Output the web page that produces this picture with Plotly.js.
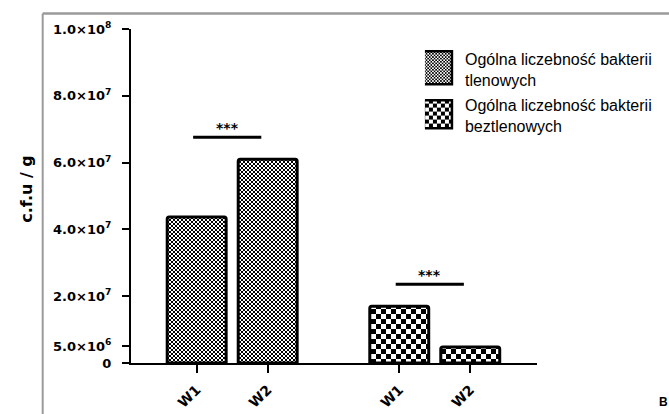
<!DOCTYPE html>
<html><head><meta charset="utf-8">
<script src="https://cdn.plot.ly/plotly-3.0.1.min.js"></script>
<style>body{margin:0;background:#fff}#chart{width:669px;height:414px}</style>
</head><body><div id="chart"></div>
<script>
// ---- data ----
const categories = ['W1', 'W2'];
const seriesNames = ['Ogólna liczebność bakterii<br>tlenowych', 'Ogólna liczebność bakterii<br>beztlenowych'];
const aerobic = [4.37e7, 6.10e7];
const anaerobic = [1.70e7, 4.8e6];
const significance = ['***', '***'];
const yTickVals = [0, 5e6, 2e7, 4e7, 6e7, 8e7, 1e8];
const yTickText = ['0', '5.0×10<sup>6</sup>', '2.0×10<sup>7</sup>', '4.0×10<sup>7</sup>', '6.0×10<sup>7</sup>', '8.0×10<sup>7</sup>', '1.0×10<sup>8</sup>'];
const yTitle = 'c.f.u / g';
const panelLabel = 'B';

// ---- layout constants ----
const GROUP_OFFSET = 2.853;
const BAR_WIDTH = 0.83;
const SIG_PAD = 0.66e7;

const xA = categories.map((_, i) => i);
const xB = categories.map((_, i) => i + GROUP_OFFSET);
const groups = [{x: xA, y: aerobic}, {x: xB, y: anaerobic}];

function barTrace(g, name, lg, size) {
  return {
    type: 'bar', x: g.x, y: g.y, name: name, width: BAR_WIDTH, legendgroup: lg,
    hoverinfo: 'skip',
    marker: {
      color: 'white', cornerradius: 2,
      line: {color: 'black', width: 3},
      pattern: {shape: '.', size: size, solidity: 0.5, fgcolor: 'black', bgcolor: 'white'}
    }
  };
}
const data = [barTrace(groups[0], seriesNames[0], 'a', 4), barTrace(groups[1], seriesNames[1], 'b', 10)];

const shapes = [
  {type: 'line', xref: 'paper', yref: 'paper', x0: -0.2175, x1: -0.2175, y0: 1.0464, y1: -0.25, line: {color: '#9a9a9a', width: 2}},
  {type: 'line', xref: 'paper', yref: 'paper', x0: -0.2175, x1: 1.4, y0: 1.0464, y1: 1.0464, line: {color: '#9a9a9a', width: 2.5}}
];
const annotations = [];
groups.forEach((g, k) => {
  const yy = Math.max(...g.y) + SIG_PAD;
  const x0 = g.x[0] - 0.05, x1 = g.x[1] - 0.09;
  shapes.push({type: 'line', xref: 'x', yref: 'y', x0: x0, x1: x1, y0: yy, y1: yy, line: {color: 'black', width: 3}});
  annotations.push({xref: 'x', yref: 'y', x: (x0 + x1) / 2, y: yy, text: significance[k], showarrow: false,
    yanchor: 'middle', yshift: 9, font: {family: 'DejaVu Sans', size: 14, weight: 'bold', color: 'black'}});
});
annotations.push({xref: 'paper', yref: 'paper', x: 1.3116, y: -0.1168, text: panelLabel, showarrow: false,
  xanchor: 'center', yanchor: 'middle', font: {family: 'Liberation Sans', size: 12, weight: 'bold', color: 'black'}});

const tickFont = {family: 'DejaVu Sans', size: 13, weight: 'bold', color: 'black'};
const layout = {
  width: 669, height: 414,
  margin: {l: 131, r: 132, t: 29, b: 51, pad: 0},
  paper_bgcolor: 'white', plot_bgcolor: 'white',
  showlegend: true,
  xaxis: {
    range: [-0.925, 4.793], tickvals: xA.concat(xB), ticktext: categories.concat(categories),
    tickangle: -45, ticks: 'outside', ticklen: 8, tickwidth: 2, tickcolor: 'black',
    showline: true, linewidth: 2, linecolor: 'black', showgrid: false, zeroline: false,
    tickfont: {family: 'DejaVu Sans', size: 14, weight: 'bold', color: 'black'}, ticklabelstandoff: 3, fixedrange: true
  },
  yaxis: {
    range: [0, 1e8], tickvals: yTickVals, ticktext: yTickText,
    ticks: 'outside', ticklen: 7, tickwidth: 2, tickcolor: 'black',
    showline: true, linewidth: 2, linecolor: 'black', showgrid: false, zeroline: false,
    tickfont: tickFont, ticklabelstandoff: 8, fixedrange: true,
    title: {text: yTitle, font: {family: 'DejaVu Sans', size: 16, weight: 'bold', color: 'black'}, standoff: 20}
  },
  legend: {
    x: 0.724, xanchor: 'left', y: 0.962, yanchor: 'top',
    font: {family: 'Liberation Sans', size: 16, color: 'black'},
    traceorder: 'grouped', tracegroupgap: 2, bgcolor: 'rgba(0,0,0,0)', itemclick: false, itemdoubleclick: false
  },
  shapes: shapes, annotations: annotations
};

function checkerize(gd) {
  const NS = 'http://www.w3.org/2000/svg';
  gd.querySelectorAll('pattern').forEach(pt => {
    const s = parseFloat(pt.getAttribute('width'));
    if (!s) return;
    const c = s / 2;
    while (pt.firstChild) pt.removeChild(pt.firstChild);
    const mk = (x, y, w, h, f) => {
      const r = document.createElementNS(NS, 'rect');
      r.setAttribute('x', x); r.setAttribute('y', y); r.setAttribute('width', w); r.setAttribute('height', h);
      r.setAttribute('fill', f); pt.appendChild(r);
    };
    mk(0, 0, s, s, '#ffffff'); mk(0, 0, c, c, '#000000'); mk(c, c, c, c, '#000000');
  });
}
function fixLegend(gd) {
  const sizes = [[29, 33], [28, 28]];
  gd.querySelectorAll('.legend .traces').forEach((g, i) => {
    const text = g.querySelector('text.legendtext');
    const path = g.querySelector('.legendpoints path');
    if (!text || !path) return;
    const tb = text.getBoundingClientRect();
    const [w, h] = sizes[i] || sizes[0];
    const cx = tb.left - 13 - w / 2, cy = (tb.top + tb.bottom) / 2 - 2;
    const svg = path.ownerSVGElement;
    const p = svg.createSVGPoint(); p.x = cx; p.y = cy;
    const l = p.matrixTransform(path.getScreenCTM().inverse());
    path.setAttribute('d', `M${l.x - w / 2},${l.y - h / 2}H${l.x + w / 2}V${l.y + h / 2}H${l.x - w / 2}Z`);
    path.style.strokeWidth = '2.5px';
  });
}
function placeYTitle(gd) {
  const t = gd.querySelector('.ytitle');
  if (!t) return;
  const b = t.getBoundingClientRect();
  const dx = 26 - (b.left + b.right) / 2, dy = 189 - (b.top + b.bottom) / 2;
  t.setAttribute('transform', `translate(${dx},${dy}) ` + (t.getAttribute('transform') || ''));
}
Plotly.newPlot('chart', data, layout, {staticPlot: true, displayModeBar: false}).then(gd => {
  checkerize(gd);
  fixLegend(gd);
  placeYTitle(gd);
});
</script></body></html>
